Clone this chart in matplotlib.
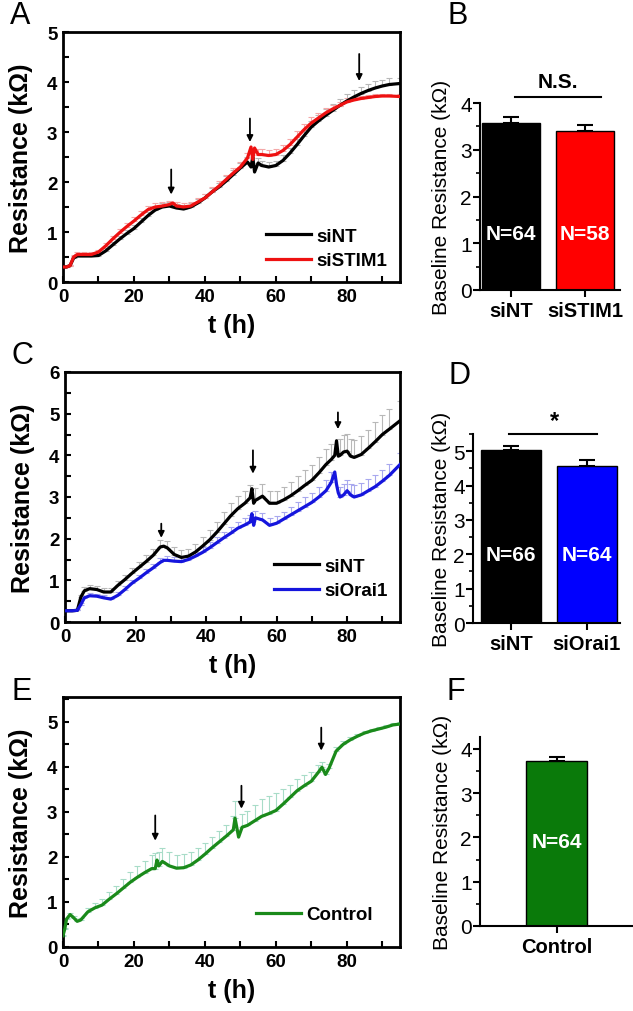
import numpy as np
import matplotlib.pyplot as plt
from matplotlib.ticker import MultipleLocator

plt.rcParams['font.family'] = ['Liberation Sans', 'DejaVu Sans']

# ---- panel A: siNT vs siSTIM1 ----
tA = [0, 1, 2, 3, 4, 6, 8, 10, 12, 14, 16, 18, 20, 22, 24, 26, 28, 30, 31, 32, 34, 36, 38, 40,
      42, 44, 46, 48, 50, 52, 53, 53.5, 54, 55, 56, 58, 60, 62, 64, 66, 68, 70, 72, 74, 76, 78,
      80, 82, 84, 86, 88, 90, 92, 95]
A_siNT = [0.30, 0.30, 0.33, 0.48, 0.52, 0.52, 0.52, 0.53, 0.62, 0.74, 0.86, 0.97, 1.07, 1.20,
          1.33, 1.44, 1.50, 1.52, 1.50, 1.48, 1.46, 1.50, 1.58, 1.68, 1.80, 1.90, 2.02, 2.15,
          2.28, 2.40, 2.30, 2.50, 2.20, 2.38, 2.33, 2.30, 2.33, 2.43, 2.58, 2.75, 2.93, 3.10,
          3.22, 3.33, 3.43, 3.53, 3.62, 3.70, 3.77, 3.83, 3.88, 3.92, 3.95, 3.97]
A_siNT_err = [0.02, 0.02, 0.02, 0.04, 0.05, 0.05, 0.05, 0.05, 0.06, 0.06, 0.07, 0.07, 0.08,
              0.08, 0.08, 0.08, 0.08, 0.08, 0, 0.08, 0.08, 0.08, 0.08, 0.09, 0.09, 0.09, 0.1,
              0.1, 0.1, 0.1, 0, 0, 0, 0.1, 0.1, 0.1, 0.1, 0.11, 0.11, 0.12, 0.12, 0.12, 0.13,
              0.13, 0.13, 0.14, 0.14, 0.14, 0.14, 0.14, 0.14, 0.13, 0.13, 0.12]
A_siSTIM1 = [0.30, 0.30, 0.33, 0.50, 0.55, 0.55, 0.55, 0.60, 0.72, 0.86, 0.99, 1.11, 1.22,
             1.34, 1.45, 1.50, 1.52, 1.55, 1.58, 1.52, 1.50, 1.52, 1.60, 1.68, 1.80, 1.92,
             2.05, 2.18, 2.30, 2.48, 2.70, 2.45, 2.68, 2.55, 2.55, 2.53, 2.55, 2.63, 2.75,
             2.90, 3.05, 3.18, 3.28, 3.38, 3.46, 3.53, 3.60, 3.64, 3.67, 3.69, 3.71, 3.72,
             3.72, 3.71]
A_siSTIM1_err = [0.02, 0.02, 0.02, 0.04, 0.05, 0.05, 0.05, 0.05, 0.06, 0.07, 0.07, 0.08,
                 0.08, 0.08, 0.08, 0.08, 0.08, 0.08, 0, 0.08, 0.08, 0.08, 0.09, 0.09, 0.1,
                 0.1, 0.1, 0.11, 0.11, 0.11, 0, 0, 0, 0.12, 0.12, 0.12, 0.12, 0.12, 0.12,
                 0.12, 0.12, 0.12, 0.1, 0.1, 0.09, 0.08, 0.08, 0.07, 0.06, 0.06, 0.05,
                 0.05, 0.05, 0.05]
A_arrows_t = [30.5, 52.7, 83.5]
A_arrows_y = [(2.25, 1.75), (3.27, 2.8), (4.56, 4.02)]

# ---- panel C: siNT vs siOrai1 ----
tC = [0, 2, 3.5, 4.5, 5.5, 7, 9, 11, 13, 15, 17, 19, 21, 23, 25, 27, 28, 29, 31, 33, 35, 37,
      39, 41, 43, 45, 47, 49, 51, 52.5, 53, 53.5, 54, 56, 58, 60, 62, 64, 66, 68, 70, 72, 74,
      75.5, 76.5, 77, 77.5, 78, 79, 80, 81, 82, 84, 86, 88, 90, 92, 95]
C_siNT = [0.27, 0.27, 0.28, 0.60, 0.75, 0.80, 0.78, 0.72, 0.72, 0.88, 1.02, 1.17, 1.31, 1.45,
          1.60, 1.80, 1.82, 1.78, 1.62, 1.55, 1.58, 1.68, 1.82, 1.97, 2.15, 2.35, 2.55, 2.72,
          2.85, 2.98, 3.20, 2.85, 2.92, 3.02, 2.85, 2.85, 2.93, 3.03, 3.15, 3.28, 3.40, 3.58,
          3.78, 3.90, 4.00, 4.35, 3.98, 4.00, 4.08, 4.10, 3.98, 3.95, 4.02, 4.17, 4.33, 4.50,
          4.63, 4.83]
C_siNT_err = [0.03, 0.03, 0.03, 0.06, 0.08, 0.09, 0.09, 0.09, 0.09, 0.1, 0.12, 0.13, 0.14,
              0.15, 0.16, 0.17, 0, 0.17, 0.17, 0.17, 0.18, 0.2, 0.22, 0.24, 0.26, 0.28, 0.3,
              0.3, 0.3, 0.3, 0, 0, 0.3, 0.3, 0.3, 0.3, 0.32, 0.34, 0.35, 0.36, 0.38, 0.38, 0.38,
              0.38, 0, 0, 0, 0.4, 0.4, 0.42, 0.42, 0.42, 0.44, 0.45, 0.46, 0.47, 0.48, 0.48]
C_siOrai1 = [0.27, 0.27, 0.28, 0.42, 0.58, 0.63, 0.62, 0.58, 0.55, 0.64, 0.78, 0.93, 1.05,
             1.18, 1.30, 1.43, 1.48, 1.48, 1.46, 1.45, 1.50, 1.58, 1.67, 1.78, 1.90, 2.02,
             2.13, 2.25, 2.33, 2.40, 2.60, 2.32, 2.50, 2.45, 2.32, 2.37, 2.47, 2.57, 2.67,
             2.77, 2.87, 3.00, 3.15, 3.35, 3.60, 3.30, 3.10, 3.00, 3.05, 3.15, 3.05, 3.00,
             3.05, 3.15, 3.25, 3.38, 3.52, 3.78]
C_siOrai1_err = [0.02, 0.02, 0.02, 0.04, 0.05, 0.06, 0.06, 0.06, 0.06, 0.07, 0.08, 0.08,
                 0.09, 0.1, 0.1, 0.1, 0, 0.1, 0.1, 0.1, 0.1, 0.11, 0.12, 0.13, 0.14, 0.15,
                 0.15, 0.16, 0.16, 0.16, 0, 0, 0.16, 0.17, 0.17, 0.18, 0.18, 0.2, 0.2, 0.22,
                 0.22, 0.24, 0.25, 0.25, 0, 0, 0, 0.25, 0.26, 0.27, 0.27, 0.28, 0.28, 0.28,
                 0.28, 0.28, 0.28, 0.28]
C_arrows_t = [27.3, 53.3, 77.4]
C_arrows_y = [(2.36, 2.02), (4.12, 3.56), (5.03, 4.63)]

# ---- panel E: Control ----
tE = [0, 0.5, 1, 2, 3, 4, 5, 7, 9, 11, 13, 15, 17, 19, 21, 23, 25, 26, 26.5, 27, 28, 30, 32,
      34, 36, 38, 40, 42, 44, 46, 48, 48.5, 49.5, 50.5, 52, 54, 56, 58, 60, 62, 64, 66, 68, 70,
      72, 73, 74, 75, 77, 79, 81, 83, 85, 87, 89, 91, 93, 95]
E_ctrl = [0.25, 0.40, 0.62, 0.72, 0.65, 0.57, 0.60, 0.78, 0.87, 0.93, 1.06, 1.18, 1.31, 1.44,
          1.55, 1.65, 1.74, 1.74, 1.93, 1.80, 1.90, 1.80, 1.75, 1.76, 1.82, 1.93, 2.06, 2.20,
          2.33, 2.46, 2.60, 2.86, 2.44, 2.66, 2.70, 2.80, 2.90, 2.96, 3.03, 3.17, 3.32, 3.47,
          3.58, 3.68, 3.88, 3.99, 3.83, 3.97, 4.35, 4.50, 4.60, 4.68, 4.75, 4.80, 4.84, 4.88,
          4.93, 4.95]
E_ctrl_err = [0.02, 0.02, 0.03, 0.04, 0.04, 0.04, 0.05, 0.08, 0.1, 0.13, 0.16, 0.18, 0.2,
              0.22, 0.24, 0.26, 0.3, 0.35, 0, 0.3, 0.3, 0.3, 0.3, 0.3, 0.28, 0.26, 0.24, 0.24,
              0.24, 0.25, 0.3, 0.38, 0, 0.3, 0.32, 0.35, 0.38, 0.4, 0.38, 0.33, 0.28, 0.26,
              0.24, 0.2, 0.15, 0.12, 0.12, 0.1, 0.08, 0.07, 0.06, 0.05, 0.05, 0.05, 0.05,
              0.05, 0.05, 0.05]
E_arrows_t = [26.0, 50.3, 72.8]
E_arrows_y = [(2.92, 2.36), (3.58, 3.07), (4.87, 4.36)]

# ---- bar panels ----
B_groups = ['siNT', 'siSTIM1']
B_vals = [3.58, 3.40]
B_errs = [0.11, 0.12]
B_n = ['N=64', 'N=58']
D_groups = ['siNT', 'siOrai1']
D_vals = [5.02, 4.56]
D_errs = [0.14, 0.17]
D_n = ['N=66', 'N=64']
F_groups = ['Control']
F_vals = [3.73]
F_errs = [0.08]
F_n = ['N=64']

W, H = 633, 1012
fig = plt.figure(figsize=(W / 100, H / 100), dpi=100)


def px_axes(l, t, r, b):
    return fig.add_axes([l / W, 1 - b / H, (r - l) / W, (b - t) / H])


def line_panel(ax, ymax, series, arrows_t, arrows_y, legend_pos):
    for t, y, e, col, ecol, lab in series:
        t = np.asarray(t)
        y = np.asarray(y)
        e = np.asarray(e)
        m = e > 0
        ax.errorbar(t[m], y[m], yerr=[np.zeros(m.sum()), e[m]], fmt='none',
                    ecolor=ecol, elinewidth=0.8, capsize=2.2, capthick=0.8, zorder=1)
    for t, y, e, col, ecol, lab in series:
        ax.plot(t, y, color=col, lw=2.3, label=lab, zorder=3)
    for xa, (y0, y1) in zip(arrows_t, arrows_y):
        ax.annotate('', xy=(xa, y1), xytext=(xa, y0),
                    arrowprops=dict(arrowstyle='-|>', color='k', lw=1.3,
                                    mutation_scale=9, shrinkA=0, shrinkB=0))
    ax.set_xlim(0, 95)
    ax.set_ylim(0, ymax)
    ax.xaxis.set_major_locator(MultipleLocator(20))
    ax.xaxis.set_minor_locator(MultipleLocator(10))
    ax.yaxis.set_major_locator(MultipleLocator(1))
    ax.yaxis.set_minor_locator(MultipleLocator(0.5))
    ax.tick_params(which='both', direction='in', width=1.5, top=False, right=False)
    ax.tick_params(which='major', length=4, labelsize=13.5, pad=4)
    ax.tick_params(which='minor', length=4)
    for lbl in ax.get_xticklabels() + ax.get_yticklabels():
        lbl.set_fontweight('bold')
    for s in ax.spines.values():
        s.set_linewidth(2)
    ax.set_xlabel('t (h)', fontsize=18, fontweight='bold', labelpad=6)
    ax.set_ylabel('Resistance (k\u03a9)', fontsize=18, fontweight='bold', labelpad=10)
    ax.legend(loc='lower left', bbox_to_anchor=legend_pos, frameon=False,
              prop={'size': 13.5, 'weight': 'bold'}, handlelength=2.4,
              handletextpad=0.3, labelspacing=0.4, borderaxespad=0)


def bar_panel(ax, groups, vals, errs, colors, xlim, ymax, width, ylbl_x):
    x = np.arange(len(groups))
    ax.bar(x, vals, width=width, color=colors, edgecolor='k', linewidth=1.0, zorder=2)
    ax.errorbar(x, vals, yerr=[np.zeros(len(vals)), errs], fmt='none', ecolor='k',
                elinewidth=1.5, capsize=6, capthick=1.5, zorder=1)
    ax.set_xlim(*xlim)
    ax.set_ylim(0, ymax)
    ax.set_xticks(x)
    ax.set_xticklabels(groups, fontsize=14.5, fontweight='bold')
    ax.yaxis.set_major_locator(MultipleLocator(1))
    ax.yaxis.set_minor_locator(MultipleLocator(0.5))
    ax.tick_params(axis='y', which='major', direction='out', length=5, width=1.5,
                   labelsize=15, pad=1)
    ax.tick_params(axis='y', which='minor', direction='out', length=3, width=1.2)
    ax.tick_params(axis='x', direction='out', length=5, width=1.5, pad=3)
    ax.spines['top'].set_visible(False)
    ax.spines['right'].set_visible(False)
    ax.spines['left'].set_linewidth(1.5)
    ax.spines['bottom'].set_linewidth(1.5)
    ax.set_ylabel('Baseline Resistance (k\u03a9)', fontsize=15)
    ax.yaxis.set_label_coords(ylbl_x, 0.5)


# panel A
axA = px_axes(63, 33, 400, 283)
line_panel(axA, 5,
           [(tA, A_siNT, A_siNT_err, 'black', '#b8b8b8', 'siNT'),
            (tA, A_siSTIM1, A_siSTIM1_err, '#ee1111', '#f4a8a8', 'siSTIM1')],
           A_arrows_t, A_arrows_y, (0.58, 0.02))

# panel B
axB = px_axes(480, 104, 620, 291)
bar_panel(axB, B_groups, B_vals, B_errs, ['black', '#ff0000'], (-0.42, 1.47), 4, 0.78,
          -0.205)
axB.plot([0.05, 1.22], [4.13, 4.13], color='k', lw=1.5, clip_on=False)
axB.text(0.63, 4.25, 'N.S.', ha='center', va='bottom', fontsize=15, fontweight='bold')
for xi, n in enumerate(B_n):
    axB.text(xi, 1.2, n, ha='center', va='center', color='white', fontsize=15,
             fontweight='bold')

# panel C
axC = px_axes(65, 373, 400, 623)
line_panel(axC, 6,
           [(tC, C_siNT, C_siNT_err, 'black', '#b8b8b8', 'siNT'),
            (tC, C_siOrai1, C_siOrai1_err, '#1515dd', '#a8a8ee', 'siOrai1')],
           C_arrows_t, C_arrows_y, (0.6, 0.06))

# panel D
axD = px_axes(473, 435, 620, 624)
bar_panel(axD, D_groups, D_vals, D_errs, ['black', '#0000ff'], (-0.5, 1.44), 5.5, 0.79,
          -0.15)
axD.plot([-0.03, 1.14], [5.5, 5.5], color='k', lw=1.5, clip_on=False)
axD.text(0.57, 5.55, '*', ha='center', va='bottom', fontsize=17, fontweight='bold')
for xi, n in enumerate(D_n):
    axD.text(xi, 2.0, n, ha='center', va='center', color='white', fontsize=15,
             fontweight='bold')

# panel E
axE = px_axes(63, 698, 400, 948)
line_panel(axE, 5.55,
           [(tE, E_ctrl, E_ctrl_err, '#1a8a1a', '#a8dcc8', 'Control')],
           E_arrows_t, E_arrows_y, (0.55, 0.065))

# panel F
axF = px_axes(480, 738, 633, 927)
bar_panel(axF, F_groups, F_vals, F_errs, ['#0a7a0a'], (-1.0, 1.0), 4.27, 0.8, -0.183)
for xi, n in enumerate(F_n):
    axF.text(xi, 1.92, n, ha='center', va='center', color='white', fontsize=15,
             fontweight='bold')

# panel letters
for lbl, (px, py) in {'A': (20, 16), 'B': (458, 16), 'C': (22, 356), 'D': (459, 376),
                      'E': (22, 692), 'F': (456, 692)}.items():
    fig.text(px / W, 1 - py / H, lbl, fontsize=22, ha='center', va='center')

fig.savefig('out.png', dpi=100)
